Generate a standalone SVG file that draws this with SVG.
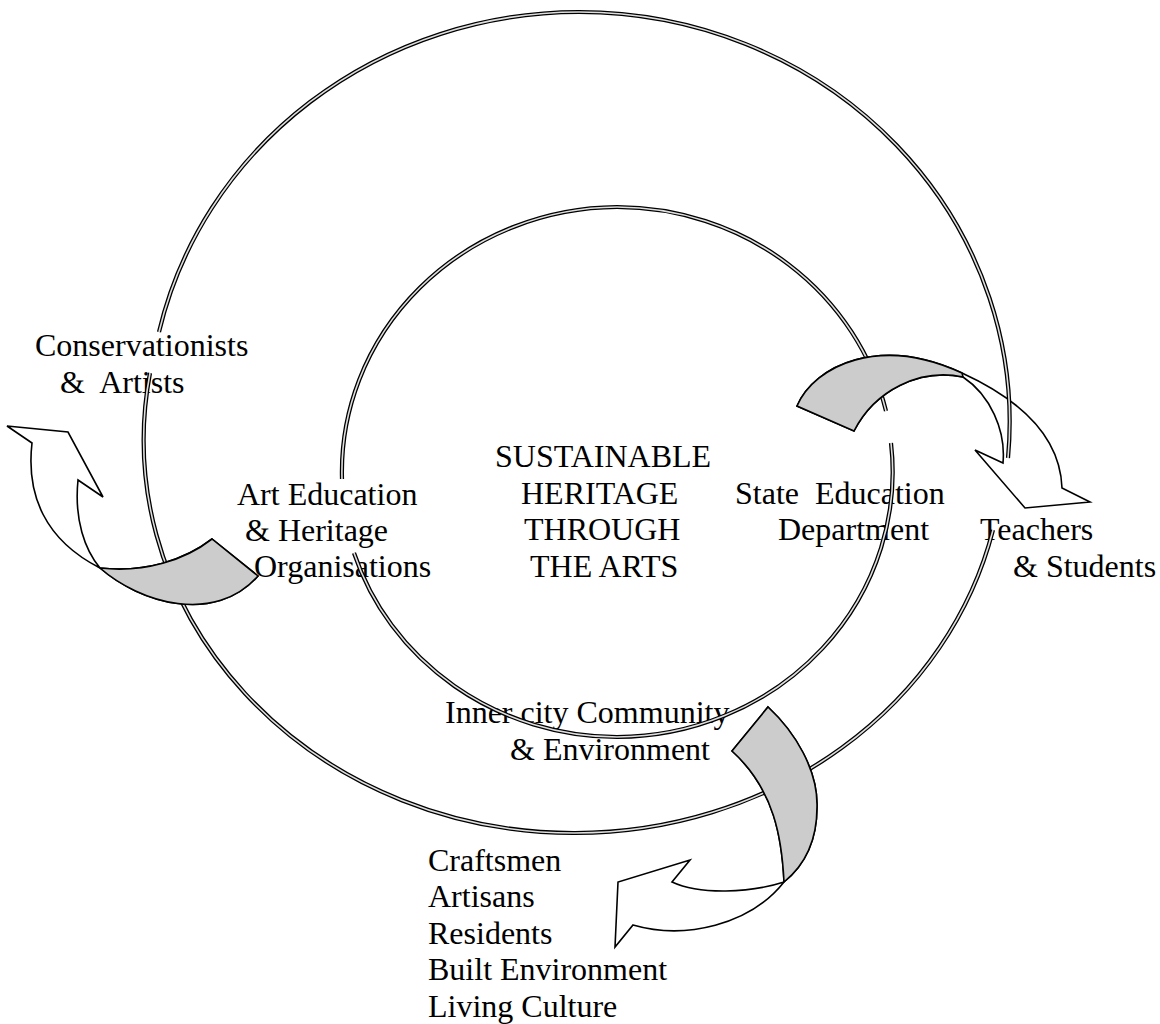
<svg xmlns="http://www.w3.org/2000/svg" xmlns:xlink="http://www.w3.org/1999/xlink" width="1160" height="1024" viewBox="0 0 1160 1024">
<style>
  text { font-family: "Liberation Serif", "Times New Roman", serif; font-size: 32px; fill: #000; white-space: pre; }
  .ro { fill: none; stroke: #000; stroke-width: 4.2; }
  .ri { fill: none; stroke: #dedede; stroke-width: 1.6; }
  .arrow { fill: #fff; stroke: #000; stroke-width: 1.6; stroke-linejoin: miter; }
  .band { fill: #cccccc; stroke: #000; stroke-width: 1.6; stroke-linejoin: miter; }
</style>
<defs>
  <path id="outerTop" d="M 159 332 A 431 410 0 0 1 579 12 A 431 410 0 0 1 1008 458"/>
  <path id="outerBottom" d="M 150 373 A 430 393 0 0 0 575 833 A 430 393 0 0 0 993 530"/>
  <path id="innerTop" d="M 342 479 A 277 265 0 0 1 617 207 A 277 265 0 0 1 886 411"/>
  <path id="innerBottom" d="M 891 443 A 277 265 0 0 1 617 737 A 277 265 0 0 1 354 553"/>
</defs>
<rect width="1160" height="1024" fill="#fff"/>

<g id="labels">
  <g id="conservationists"><text x="35" y="356">Conservationists</text><text x="60" y="393">&amp;  Artists</text></g>
  <g id="art-education"><text x="237" y="505">Art Education</text><text x="245" y="541">&amp; Heritage</text><text x="254" y="577">Organisations</text></g>
  <g id="centre"><text x="495" y="467">SUSTAINABLE</text><text x="521" y="504">HERITAGE</text><text x="524" y="540">THROUGH</text><text x="530" y="577">THE ARTS</text></g>
  <g id="state-education"><text x="735" y="504">State  Education</text><text x="778" y="540">Department</text></g>
  <g id="teachers"><text x="980" y="540">Teachers</text><text x="1013" y="577">&amp; Students</text></g>
  <g id="community"><text x="445" y="723">Inner city Community</text><text x="510" y="760">&amp; Environment</text></g>
  <g id="craftsmen"><text x="428" y="871">Craftsmen</text><text x="428" y="907">Artisans</text><text x="428" y="944">Residents</text><text x="428" y="980">Built Environment</text><text x="428" y="1017">Living Culture</text></g>
</g>

<g id="connectors">
  <g id="rings">
    <use xlink:href="#innerTop" class="ro"/><use xlink:href="#innerTop" class="ri"/>
    <use xlink:href="#innerBottom" class="ro"/><use xlink:href="#innerBottom" class="ri"/>
    <use xlink:href="#outerBottom" class="ro"/><use xlink:href="#outerBottom" class="ri"/>
  </g>
  <g id="arrow-left">
    <path class="arrow" d="M 32 443 C 26 495, 45 540, 100 568 C 140 603, 215 625, 258 576 L 212 539 C 185 560, 145 573, 100 568 C 85 550, 74 520, 78 480 L 103 497 L 68 432 L 7 426 Z"/>
    <path class="band" d="M 100 568 C 140 603, 215 625, 258 576 L 212 539 C 185 560, 145 573, 100 568 Z"/>
  </g>
  <g id="arrow-right">
    <path class="arrow" d="M 797 406 C 815 365, 880 335, 962 373 C 1010 395, 1060 430, 1062 488 L 1090 502 L 1025 508 L 975 450 L 1003 463 C 1006 430, 990 395, 963 377 C 920 368, 875 390, 854 431 Z"/>
    <path class="band" d="M 797 406 C 815 365, 880 335, 962 373 L 963 377 C 920 368, 875 390, 854 431 Z"/>
  </g>
  <g id="arrow-bottom">
    <path class="arrow" d="M 732 751 L 768 707 C 795 732, 818 770, 817 807 C 817 840, 805 865, 784 882 C 750 925, 685 940, 633 925 L 615 947 L 618 882 L 690 860 L 672 882 C 700 895, 750 893, 784 882 C 782 840, 775 790, 732 751 Z"/>
    <path class="band" d="M 732 751 L 768 707 C 795 732, 818 770, 817 807 C 817 840, 805 865, 784 882 C 782 840, 775 790, 732 751 Z"/>
  </g>
  <g id="ring-top">
    <use xlink:href="#outerTop" class="ro"/><use xlink:href="#outerTop" class="ri"/>
  </g>
</g>
</svg>
